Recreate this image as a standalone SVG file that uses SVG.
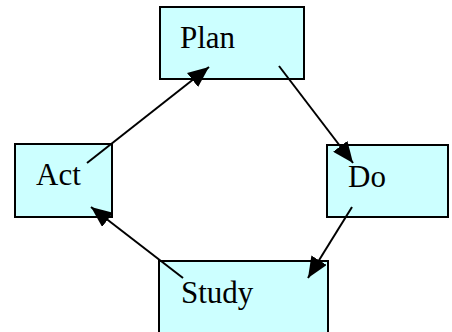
<svg xmlns="http://www.w3.org/2000/svg" width="452" height="332" viewBox="0 0 452 332">
<style>
.box{fill:#CCFFFF;stroke:#000;stroke-width:2}
.lbl{font-family:"Liberation Serif","Times New Roman",serif;font-size:31px;fill:#000}
.conn{stroke:#000;stroke-width:2;fill:none;marker-end:url(#ah)}
</style>
<defs>
<marker id="ah" markerUnits="userSpaceOnUse" markerWidth="21" markerHeight="18" refX="21" refY="9" orient="auto">
<path d="M0,0 L21,9 L0,18 Z" fill="#000"/>
</marker>
</defs>
<rect width="452" height="332" fill="#fff"/>
<g id="plan"><rect class="box" x="160" y="7" width="144" height="72"/><text class="lbl" x="180" y="48">Plan</text></g>
<g id="act"><rect class="box" x="15" y="144" width="97" height="73"/><text class="lbl" x="36" y="185">Act</text></g>
<g id="do"><rect class="box" x="327" y="145" width="121" height="72"/><text class="lbl" x="348" y="187">Do</text></g>
<g id="study"><rect class="box" x="159" y="261" width="169" height="80"/><text class="lbl" x="181" y="303">Study</text></g>
<g id="connectors">
<line class="conn" x1="87" y1="163" x2="209" y2="67"/>
<line class="conn" x1="279" y1="66" x2="353" y2="163"/>
<line class="conn" x1="352" y1="207" x2="308" y2="278"/>
<line class="conn" x1="183" y1="278" x2="91" y2="207"/>
</g>
</svg>
